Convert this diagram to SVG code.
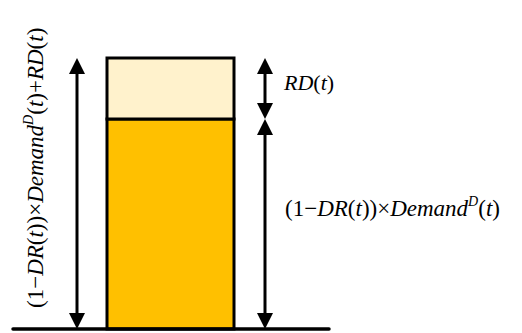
<svg xmlns="http://www.w3.org/2000/svg" width="522" height="333" viewBox="0 0 522 333">
  <style>
    .bar { stroke: #000; stroke-width: 3; }
    .dim { stroke: #000; stroke-width: 3; fill: none; marker-start: url(#head); marker-end: url(#head); }
  </style>
  <defs>
    <marker id="head" viewBox="0 0 16 16" refX="8" refY="8" markerWidth="16" markerHeight="16" markerUnits="userSpaceOnUse" orient="auto-start-reverse">
      <path d="M0,0 L16,8 L0,16 z" fill="#000"/>
    </marker>
  </defs>

  <rect width="522" height="333" fill="#fff"/>

  <!-- stacked bar -->
  <g id="demand-block">
    <rect class="bar" x="107" y="119" width="127" height="210" fill="#FFC000"/>
  </g>
  <g id="rd-block">
    <rect class="bar" x="107" y="58" width="127" height="61" fill="#FFF2CC"/>
  </g>

  <!-- ground line and dimension arrows -->
  <g id="connectors">
    <line x1="13" y1="329" x2="329" y2="329" stroke="#000" stroke-width="3.5" stroke-linecap="round"/>
    <line class="dim" x1="77" y1="66" x2="77" y2="321"/>
    <line class="dim" x1="265" y1="66" x2="265" y2="111"/>
    <line class="dim" x1="265" y1="127" x2="265" y2="321"/>
  </g>

  <!-- labels -->
  <g id="label-rd">
    <text x="284" y="90" font-family="Liberation Serif" font-size="22"><tspan font-style="italic">RD</tspan>(<tspan font-style="italic">t</tspan>)</text>
  </g>
  <g id="label-demand">
    <text x="285" y="216" font-family="Liberation Serif" font-size="23">(1−<tspan font-style="italic">DR</tspan>(<tspan font-style="italic">t</tspan>))×<tspan font-style="italic">Demand</tspan><tspan font-style="italic" font-size="14" dy="-10">D</tspan><tspan dy="10">(</tspan><tspan font-style="italic">t</tspan>)</text>
  </g>
  <g id="label-total">
    <text font-family="Liberation Serif" font-size="23" transform="translate(43,308) rotate(-90)">(1−<tspan font-style="italic">DR</tspan>(<tspan font-style="italic">t</tspan>))×<tspan font-style="italic">Demand</tspan><tspan font-style="italic" font-size="14" dy="-10">D</tspan><tspan dy="10">(</tspan><tspan font-style="italic">t</tspan>)+<tspan font-style="italic">RD</tspan>(<tspan font-style="italic">t</tspan>)</text>
  </g>
</svg>
